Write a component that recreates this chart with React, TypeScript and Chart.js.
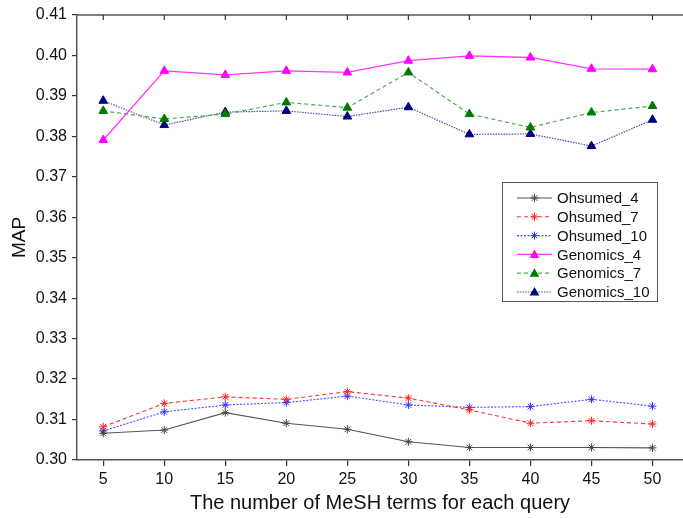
import React, { useEffect, useRef } from "react";
import { Chart, registerables } from "chart.js";
Chart.register(...registerables);

const FONT = '"Liberation Sans", Arial, Helvetica, sans-serif';

const xValues = [5, 10, 15, 20, 25, 30, 35, 40, 45, 50];
const yTickValues = [0.3, 0.31, 0.32, 0.33, 0.34, 0.35, 0.36, 0.37, 0.38, 0.39, 0.4, 0.41];

const ohsumed4 = [0.3066, 0.3074, 0.3117, 0.3091, 0.3076, 0.3045, 0.3031, 0.3031, 0.3031, 0.303];
const ohsumed7 = [0.3082, 0.314, 0.3156, 0.315, 0.3169, 0.3153, 0.3124, 0.3091, 0.3097, 0.3089];
const ohsumed10 = [0.3072, 0.3119, 0.3136, 0.3142, 0.3158, 0.3136, 0.313, 0.3132, 0.315, 0.3133];
const genomics4 = [0.3791, 0.3962, 0.3952, 0.3962, 0.3958, 0.3987, 0.3999, 0.3995, 0.3967, 0.3966];
const genomics7 = [0.3863, 0.3843, 0.3855, 0.3884, 0.3871, 0.3958, 0.3855, 0.3822, 0.3859, 0.3875];
const genomics10 = [0.3888, 0.3828, 0.386, 0.3863, 0.3849, 0.3872, 0.3805, 0.3806, 0.3776, 0.3841];

const seriesNames = ["Ohsumed_4", "Ohsumed_7", "Ohsumed_10", "Genomics_4", "Genomics_7", "Genomics_10"];
const seriesValues = [ohsumed4, ohsumed7, ohsumed10, genomics4, genomics7, genomics10];

const styles = [
  { line: "#555555", point: "#444444", dash: [] as number[], shape: "star", width: 1.1 },
  { line: "#ff3030", point: "#ff2020", dash: [4, 3], shape: "star", width: 1.1 },
  { line: "#4a4aff", point: "#3030ff", dash: [2, 1.5], shape: "star", width: 1.1 },
  { line: "#ff33ff", point: "#ff00ff", dash: [] as number[], shape: "triangle", width: 1.3 },
  { line: "#4caa4c", point: "#007a00", dash: [4, 3], shape: "triangle", width: 1.2 },
  { line: "#4a4aa0", point: "#000080", dash: [1.5, 1.2], shape: "triangle", width: 1.2 },
];

const AXIS = "#555555";

function drawMarker(ctx: CanvasRenderingContext2D, shape: string, x: number, y: number, r: number, color: string) {
  ctx.save();
  ctx.setLineDash([]);
  ctx.strokeStyle = color;
  ctx.fillStyle = color;
  ctx.lineWidth = 1;
  ctx.beginPath();
  if (shape === "star") {
    const d = r * Math.SQRT1_2;
    ctx.moveTo(x - r, y); ctx.lineTo(x + r, y);
    ctx.moveTo(x, y - r); ctx.lineTo(x, y + r);
    ctx.moveTo(x - d, y - d); ctx.lineTo(x + d, y + d);
    ctx.moveTo(x - d, y + d); ctx.lineTo(x + d, y - d);
    ctx.stroke();
  } else {
    const h = r * 1.5;
    const w = r * 1.732;
    ctx.moveTo(x, y - h * 0.66);
    ctx.lineTo(x + w / 2 + 0.5, y + h * 0.34 + 1);
    ctx.lineTo(x - w / 2 - 0.5, y + h * 0.34 + 1);
    ctx.closePath();
    ctx.fill();
  }
  ctx.restore();
}

const framePlugin = {
  id: "frameAndLegend",
  afterDraw(chart: any) {
    const { ctx, chartArea, scales } = chart;
    ctx.save();
    ctx.strokeStyle = AXIS;
    ctx.lineWidth = 1.5;
    ctx.beginPath();
    ctx.moveTo(chartArea.left, chartArea.top);
    ctx.lineTo(chartArea.right, chartArea.top);
    ctx.stroke();
    ctx.lineWidth = 1.2;
    ctx.strokeStyle = "#333";
    xValues.forEach((v) => {
      const px = scales.x.getPixelForValue(v);
      ctx.beginPath();
      ctx.moveTo(px, chartArea.top);
      ctx.lineTo(px, chartArea.top + 5);
      ctx.stroke();
    });

    const bx = 502, by = 182, bw = 155, bh = 119;
    ctx.fillStyle = "#ffffff";
    ctx.fillRect(bx, by, bw, bh);
    ctx.strokeStyle = "#555";
    ctx.lineWidth = 1;
    ctx.strokeRect(bx + 0.5, by + 0.5, bw, bh);
    ctx.font = `15px ${FONT}`;
    ctx.textBaseline = "middle";
    ctx.textAlign = "left";
    seriesNames.forEach((name, i) => {
      const s = styles[i];
      const y = 198 + i * 18.8;
      ctx.strokeStyle = s.line;
      ctx.lineWidth = s.width;
      ctx.setLineDash(s.dash);
      ctx.beginPath();
      ctx.moveTo(517, y);
      ctx.lineTo(552, y);
      ctx.stroke();
      ctx.setLineDash([]);
      drawMarker(ctx, s.shape, 534.5, y, s.shape === "star" ? 4 : 5, s.point);
      ctx.fillStyle = "#111";
      ctx.fillText(name, 557, y + 1);
    });
    ctx.restore();
  },
};

export default function App() {
  const ref = useRef<HTMLCanvasElement>(null);
  useEffect(() => {
    document.body.style.margin = "0";
    const datasets = seriesNames.map((name, i) => ({
      label: name,
      data: xValues.map((x, j) => ({ x, y: seriesValues[i][j] })),
      borderColor: styles[i].line,
      backgroundColor: styles[i].point,
      borderWidth: styles[i].width,
      borderDash: styles[i].dash,
      pointStyle: styles[i].shape as any,
      pointRadius: styles[i].shape === "star" ? 4 : 5,
      pointBorderColor: styles[i].point,
      pointBackgroundColor: styles[i].point,
      pointBorderWidth: 1,
      tension: 0,
      fill: false,
    }));
    const chart = new Chart(ref.current as HTMLCanvasElement, {
      type: "line",
      data: { datasets },
      options: {
        animation: false,
        responsive: false,
        layout: { autoPadding: false, padding: { top: 15, right: 0, left: 0, bottom: 0 } },
        plugins: { legend: { display: false }, tooltip: { enabled: false } },
        scales: {
          x: {
            type: "linear",
            min: 2.85,
            max: 52.5,
            afterFit: (s: any) => { s.height = 58; s.paddingRight = 0; s.paddingLeft = 0; },
            afterBuildTicks: (s: any) => { s.ticks = xValues.map((v) => ({ value: v })); },
            border: { display: true, color: AXIS, width: 1.5 },
            grid: { display: true, drawOnChartArea: false, drawTicks: true, tickLength: 6, color: "#333", lineWidth: 1.2 },
            ticks: { font: { family: FONT, size: 16 }, color: "#111", padding: 4, maxRotation: 0, callback: (v: any) => String(v) },
            title: { display: true, text: "The number of MeSH terms for each query", font: { family: FONT, size: 20 }, color: "#111", padding: { top: 0, bottom: 3 } },
          },
          y: {
            type: "linear",
            min: 0.3,
            max: 0.41,
            afterFit: (s: any) => { s.width = 77; s.paddingTop = 0; s.paddingBottom = 0; },
            afterBuildTicks: (s: any) => { s.ticks = yTickValues.map((v) => ({ value: v })); },
            border: { display: true, color: AXIS, width: 1.5 },
            grid: { display: true, drawOnChartArea: false, drawTicks: true, tickLength: 5, color: "#333", lineWidth: 1.2 },
            ticks: { font: { family: FONT, size: 16 }, color: "#111", padding: 5, callback: (v: any) => Number(v).toFixed(2) },
            title: { display: true, text: "MAP", font: { family: FONT, size: 19 }, color: "#111", padding: { top: 8, bottom: 0 } },
          },
        },
      },
      plugins: [framePlugin],
    } as any);
    return () => chart.destroy();
  }, []);
  return (
    <div style={{ width: 683, height: 518 }}>
      <canvas ref={ref} width={683} height={518} style={{ display: "block" }} />
    </div>
  );
}
